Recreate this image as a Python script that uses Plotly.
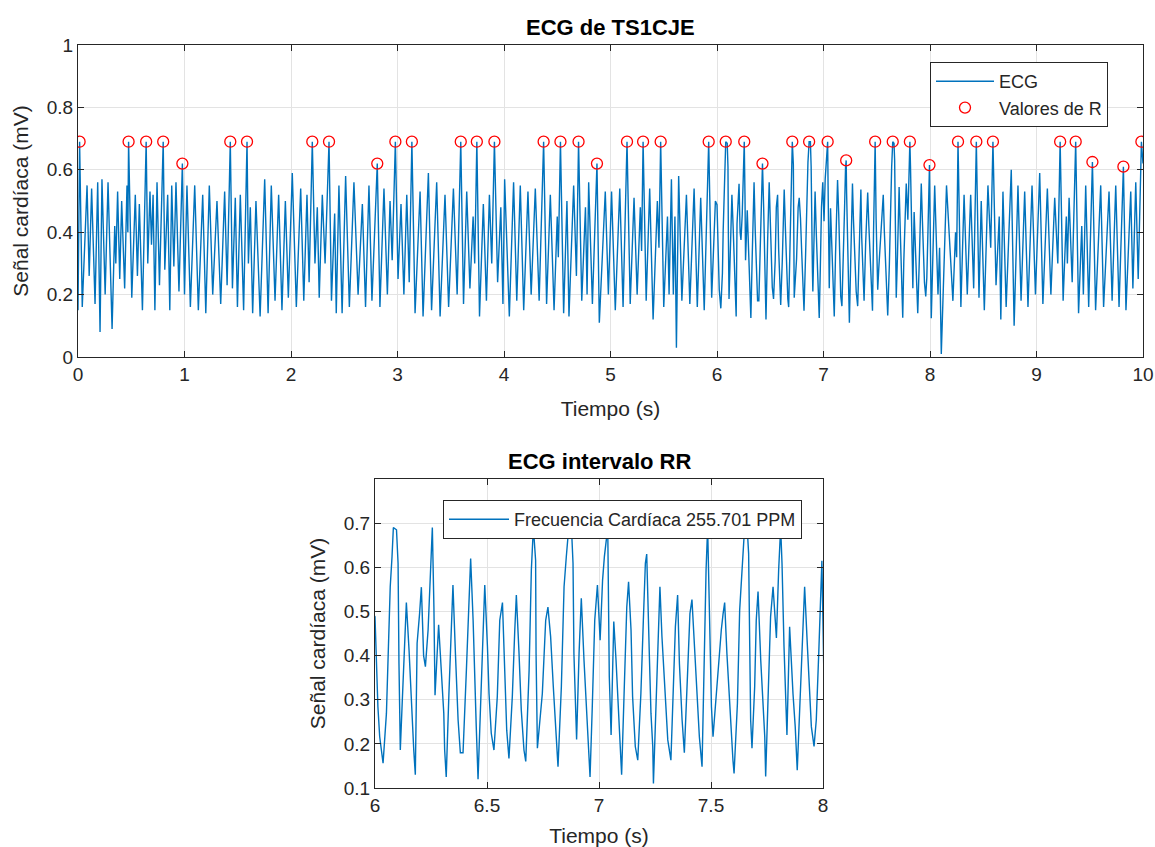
import plotly.graph_objects as go

# ---------------- data (turning points of the ECG trace) ----------------
t_00_01 = [0.000,0.015,0.040,0.085,0.105,0.128,0.160,0.185,0.207,0.225,
           0.255,0.282,0.320,0.345,0.355,0.372,0.392,0.410,0.438,0.460,
           0.468,0.475,0.505,0.538,0.558,0.576,0.605,0.640,0.655,0.676,
           0.690,0.705,0.722,0.742,0.765,0.800,0.815,0.842,0.862,0.880,
           0.900,0.920,0.948,0.965,0.980]
mv_00_01 = [0.15,0.69,0.16,0.55,0.26,0.54,0.17,0.56,0.08,0.57,
            0.20,0.56,0.09,0.42,0.30,0.53,0.25,0.50,0.22,0.55,
            0.40,0.69,0.19,0.52,0.26,0.49,0.15,0.69,0.30,0.53,
            0.36,0.52,0.15,0.56,0.23,0.69,0.28,0.52,0.15,0.55,
            0.29,0.56,0.21,0.45,0.62]

t_01_02 = [1.000,1.023,1.055,1.096,1.130,1.171,1.200,1.233,1.265,1.305,
           1.340,1.377,1.400,1.430,1.450,1.477,1.497,1.524,1.555,1.587,
           1.600,1.618,1.640,1.671,1.710,1.753,1.785,1.815,1.850,1.884,
           1.915,1.947,1.975]
mv_01_02 = [0.20,0.55,0.16,0.55,0.15,0.52,0.14,0.55,0.20,0.50,
            0.17,0.53,0.23,0.69,0.22,0.51,0.16,0.52,0.15,0.69,
            0.30,0.48,0.14,0.50,0.13,0.57,0.14,0.55,0.18,0.52,
            0.15,0.50,0.19]

t_02_03 = [2.012,2.050,2.091,2.120,2.150,2.170,2.200,2.225,2.247,2.265,
           2.294,2.320,2.357,2.380,2.410,2.425,2.450,2.480,2.513,2.548,
           2.591,2.630,2.670,2.700,2.732,2.760,2.810,2.835,2.873,2.905,
           2.930,2.950,2.980]
mv_02_03 = [0.59,0.16,0.54,0.18,0.52,0.24,0.69,0.30,0.48,0.19,
            0.52,0.30,0.69,0.18,0.46,0.14,0.55,0.14,0.58,0.16,
            0.56,0.20,0.49,0.16,0.55,0.18,0.62,0.16,0.54,0.20,
            0.50,0.31,0.69]

t_03_04 = [3.005,3.033,3.060,3.087,3.110,3.135,3.165,3.212,3.240,3.290,
           3.320,3.368,3.400,3.446,3.480,3.525,3.560,3.594,3.620,3.650,
           3.680,3.710,3.725,3.745,3.770,3.806,3.835,3.863,3.885,3.910,
           3.940,3.970,3.990]
mv_03_04 = [0.25,0.49,0.20,0.52,0.24,0.69,0.14,0.53,0.13,0.59,
            0.15,0.56,0.13,0.52,0.16,0.54,0.20,0.69,0.17,0.53,
            0.22,0.45,0.30,0.69,0.13,0.49,0.18,0.52,0.30,0.69,
            0.24,0.48,0.17]

t_04_05 = [4.006,4.050,4.090,4.120,4.153,4.185,4.225,4.255,4.294,4.330,
           4.372,4.400,4.435,4.470,4.500,4.510,4.530,4.560,4.591,4.610,
           4.654,4.680,4.700,4.730,4.765,4.780,4.795,4.830,4.873,4.895,
           4.951,4.980]
mv_04_05 = [0.57,0.13,0.56,0.18,0.55,0.15,0.53,0.20,0.54,0.18,
            0.69,0.17,0.52,0.15,0.45,0.32,0.69,0.14,0.50,0.13,
            0.55,0.26,0.69,0.18,0.48,0.20,0.56,0.17,0.62,0.11,
            0.53,0.20]

t_05_06 = [5.010,5.045,5.087,5.118,5.155,5.185,5.221,5.250,5.280,5.292,
           5.306,5.335,5.368,5.400,5.440,5.455,5.471,5.500,5.535,5.550,
           5.572,5.590,5.605,5.619,5.640,5.670,5.713,5.745,5.785,5.815,
           5.847,5.880,5.922,5.950,5.985]
mv_05_06 = [0.53,0.15,0.54,0.16,0.69,0.17,0.51,0.20,0.48,0.34,
            0.69,0.18,0.54,0.12,0.50,0.35,0.69,0.16,0.45,0.20,
            0.57,0.20,0.45,0.03,0.58,0.18,0.52,0.17,0.54,0.16,
            0.51,0.15,0.69,0.19,0.50]

# 6–8 s
t_06_08 = [6.000,6.013,6.021,6.036,6.051,6.058,6.068,6.076,6.082,6.096,
           6.103,6.107,6.113,6.122,6.132,6.140,6.152,6.162,6.173,6.180,
           6.188,6.199,6.207,6.217,6.225,6.237,6.244,6.256,6.263,6.268,
           6.284,6.296,6.307,6.311,6.318,6.330,6.341,6.348,6.359,6.371,
           6.381,6.393,6.408,6.420,6.427,6.438,6.445,6.452,6.460,6.475,
           6.490,6.502,6.509,6.519,6.531,6.546,6.557,6.569,6.579,6.588,
           6.598,6.613,6.624,6.631,6.643,6.653,6.665,6.673,6.688,6.698,
           6.707,6.717,6.719,6.725,6.747,6.762,6.772,6.784,6.796,6.807,
           6.817,6.832,6.844,6.854,6.865,6.877,6.884,6.888,6.896,6.900,
           6.911,6.921,6.933,6.945,6.955,6.960,6.970,6.981,6.993,7.005,
           7.016,7.024,7.039,7.043,7.046,7.054,7.066,7.076,7.083,7.094,
           7.101,7.113,7.124,7.132,7.143,7.150,7.162,7.173,7.187,7.198,
           7.207,7.213,7.217,7.225,7.232,7.240,7.243,7.254,7.266,7.272,
           7.281,7.292,7.307,7.321,7.332,7.341,7.351,7.359,7.371,7.381,
           7.396,7.406,7.415,7.426,7.438,7.448,7.460,7.470,7.478,7.485,
           7.494,7.502,7.509,7.519,7.531,7.546,7.554,7.561,7.571,7.580,
           7.591,7.598,7.603,7.618,7.628,7.640,7.650,7.662,7.668,7.673,
           7.677,7.683,7.695,7.702,7.710,7.722,7.732,7.740,7.744,7.754,
           7.766,7.777,7.792,7.802,7.811,7.817,7.826,7.839,7.851,7.866,
           7.876,7.885,7.900,7.911,7.918,7.929,7.938,7.948,7.960,7.970,
           7.981,7.988,7.995]
mv_06_08 = [0.488,0.284,0.216,0.156,0.269,0.405,0.556,0.624,0.69,0.685,
            0.609,0.382,0.186,0.30,0.45,0.52,0.412,0.284,0.186,0.13,
            0.428,0.495,0.555,0.40,0.375,0.458,0.556,0.69,0.51,0.31,
            0.47,0.36,0.27,0.186,0.125,0.314,0.458,0.56,0.405,0.254,
            0.18,0.18,0.367,0.518,0.62,0.48,0.33,0.239,0.12,0.367,
            0.56,0.42,0.314,0.224,0.186,0.307,0.48,0.52,0.345,0.231,
            0.167,0.307,0.458,0.537,0.405,0.277,0.186,0.16,0.367,0.594,
            0.69,0.616,0.405,0.19,0.314,0.48,0.51,0.443,0.33,0.224,
            0.148,0.33,0.556,0.624,0.69,0.69,0.609,0.405,0.277,0.21,
            0.405,0.53,0.39,0.284,0.171,0.125,0.284,0.48,0.56,0.435,
            0.571,0.624,0.69,0.548,0.352,0.22,0.477,0.39,0.307,0.209,
            0.13,0.33,0.51,0.567,0.458,0.307,0.194,0.163,0.314,0.48,
            0.609,0.63,0.526,0.397,0.269,0.194,0.11,0.284,0.495,0.556,
            0.443,0.33,0.209,0.163,0.314,0.465,0.537,0.382,0.254,0.18,
            0.367,0.495,0.527,0.42,0.307,0.216,0.148,0.405,0.594,0.69,
            0.443,0.284,0.216,0.284,0.36,0.458,0.495,0.52,0.405,0.314,
            0.216,0.163,0.133,0.292,0.503,0.609,0.69,0.685,0.631,0.42,
            0.254,0.19,0.33,0.48,0.545,0.39,0.284,0.216,0.126,0.307,
            0.488,0.556,0.44,0.594,0.69,0.609,0.42,0.22,0.465,0.314,
            0.239,0.14,0.314,0.48,0.556,0.435,0.33,0.239,0.194,0.254,
            0.405,0.533,0.615]

t_08_10 = [8.012,8.044,8.075,8.090,8.106,8.155,8.215,8.240,8.250,8.263,
           8.290,8.320,8.350,8.382,8.410,8.435,8.460,8.481,8.510,8.544,
           8.570,8.591,8.620,8.650,8.665,8.685,8.715,8.763,8.790,8.826,
           8.855,8.889,8.920,8.958,8.990,9.030,9.060,9.102,9.135,9.171,
           9.200,9.222,9.250,9.280,9.290,9.306,9.335,9.368,9.395,9.425,
           9.440,9.462,9.490,9.525,9.555,9.603,9.630,9.681,9.710,9.744,
           9.775,9.816,9.840,9.885,9.905,9.932,9.955,9.985,10.000]
mv_08_10 = [0.124,0.55,0.20,0.35,0.01,0.55,0.18,0.40,0.32,0.69,
            0.16,0.52,0.20,0.52,0.22,0.69,0.19,0.50,0.15,0.55,
            0.35,0.69,0.23,0.45,0.12,0.53,0.16,0.60,0.10,0.55,
            0.18,0.53,0.16,0.55,0.20,0.59,0.17,0.54,0.20,0.51,
            0.30,0.69,0.18,0.45,0.30,0.51,0.24,0.69,0.14,0.42,
            0.20,0.55,0.16,0.625,0.15,0.55,0.16,0.53,0.18,0.55,
            0.16,0.61,0.15,0.53,0.22,0.56,0.25,0.69,0.62]

# R-peak detections (red circles)
r_t = [0.015,0.475,0.640,0.800,0.980,1.430,1.587,2.200,2.357,2.810,
       2.980,3.135,3.594,3.745,3.910,4.372,4.530,4.700,4.873,5.155,
       5.306,5.471,5.922,6.082,6.256,6.427,6.707,6.865,7.039,7.213,
       7.485,7.650,7.811,7.995,8.263,8.435,8.591,9.222,9.368,9.525,
       9.816,9.985]
r_mv = [0.69,0.69,0.69,0.69,0.62,0.69,0.69,0.69,0.69,0.62,
        0.69,0.69,0.69,0.69,0.69,0.69,0.69,0.69,0.62,0.69,
        0.69,0.69,0.69,0.69,0.69,0.62,0.69,0.69,0.69,0.63,
        0.69,0.69,0.69,0.615,0.69,0.69,0.69,0.69,0.69,0.625,
        0.61,0.69]

top_xticks = [0, 1, 2, 3, 4, 5, 6, 7, 8, 9, 10]
top_yticks = [0, 0.2, 0.4, 0.6, 0.8, 1]
bot_xticks = [6, 6.5, 7, 7.5, 8]
bot_yticks = [0.1, 0.2, 0.3, 0.4, 0.5, 0.6, 0.7]

segments_t = [t_00_01, t_01_02, t_02_03, t_03_04, t_04_05, t_05_06, t_06_08, t_08_10]
segments_mv = [mv_00_01, mv_01_02, mv_02_03, mv_03_04, mv_04_05, mv_05_06, mv_06_08, mv_08_10]
ecg_t, ecg_mv = [], []
for ts, vs in zip(segments_t, segments_mv):
    assert len(ts) == len(vs), (ts[0], len(ts), len(vs))
    ecg_t += ts
    ecg_mv += vs

# ---------------- figure ----------------
W, H = 1155, 847


def fx(p):
    return p / W


def fy(p):
    return 1 - p / H


FONT = "Liberation Sans, Arial, Helvetica, sans-serif"
TXT = "#262626"
BLUE = "#0072BD"

fig = go.Figure()
fig.add_trace(go.Scatter(x=ecg_t, y=ecg_mv, mode="lines", name="ECG",
                         line=dict(color=BLUE, width=1.4),
                         xaxis="x", yaxis="y", legend="legend"))
fig.add_trace(go.Scatter(x=r_t, y=r_mv, mode="markers", name="Valores de R",
                         marker=dict(symbol="circle-open", size=11, color="#FF0000",
                                     line=dict(width=1.3, color="#FF0000")),
                         xaxis="x", yaxis="y", legend="legend"))
fig.add_trace(go.Scatter(x=ecg_t, y=ecg_mv, mode="lines",
                         name="Frecuencia Cardíaca 255.701 PPM",
                         line=dict(color=BLUE, width=1.4),
                         xaxis="x2", yaxis="y2", legend="legend2"))

common = dict(showline=True, linecolor=TXT, linewidth=1, mirror="ticks",
              ticks="inside", ticklen=6, tickcolor=TXT, showgrid=True,
              gridcolor="#E3E3E3", gridwidth=1, zeroline=False,
              automargin=False, ticklabeloverflow="allow",
              tickfont=dict(size=19, color=TXT, family=FONT))
title_font = dict(size=21, color=TXT, family=FONT)

fig.update_layout(
    width=W, height=H, autosize=False,
    margin=dict(l=0, r=0, t=0, b=0, autoexpand=False),
    paper_bgcolor="white", plot_bgcolor="white",
    font=dict(family=FONT, color=TXT),
    xaxis=dict(domain=[fx(78), fx(1143)], range=[0, 10], tickvals=top_xticks,
               anchor="y", title=dict(text="Tiempo (s)", font=title_font, standoff=17),
               **common),
    yaxis=dict(domain=[fy(357), fy(45)], range=[0, 1], tickvals=top_yticks,
               ticktext=["0", "0.2", "0.4", "0.6", "0.8", "1"],
               anchor="x", title=dict(text="Señal cardíaca (mV)", font=title_font, standoff=12),
               **common),
    xaxis2=dict(domain=[fx(375), fx(823)], range=[6, 8], tickvals=bot_xticks,
                anchor="y2", title=dict(text="Tiempo (s)", font=title_font, standoff=13),
                **common),
    yaxis2=dict(domain=[fy(788), fy(479)], range=[0.1, 0.8], tickvals=bot_yticks,
                anchor="x2", title=dict(text="Señal cardíaca (mV)", font=title_font, standoff=12),
                **common),
    legend=dict(x=fx(930), y=fy(62), xanchor="left", yanchor="top",
                bgcolor="white", bordercolor=TXT, borderwidth=1, itemwidth=58,
                font=dict(size=18, color=TXT, family=FONT)),
    legend2=dict(x=fx(443), y=fy(500), xanchor="left", yanchor="top",
                 bgcolor="white", bordercolor=TXT, borderwidth=1, itemwidth=60,
                 font=dict(size=18, color=TXT, family=FONT)),
    annotations=[
        dict(text="<b>ECG de TS1CJE</b>", xref="paper", yref="paper",
             x=fx((78 + 1143) / 2), y=fy(27), xanchor="center", yanchor="middle",
             showarrow=False, font=dict(size=22, color="#000000", family=FONT)),
        dict(text="<b>ECG intervalo RR</b>", xref="paper", yref="paper",
             x=fx((375 + 823) / 2), y=fy(462), xanchor="center", yanchor="middle",
             showarrow=False, font=dict(size=22, color="#000000", family=FONT)),
    ],
)

fig.write_html("out.html", config={"displayModeBar": False},
               post_script="document.body.style.margin='0';document.body.style.overflow='hidden';")
